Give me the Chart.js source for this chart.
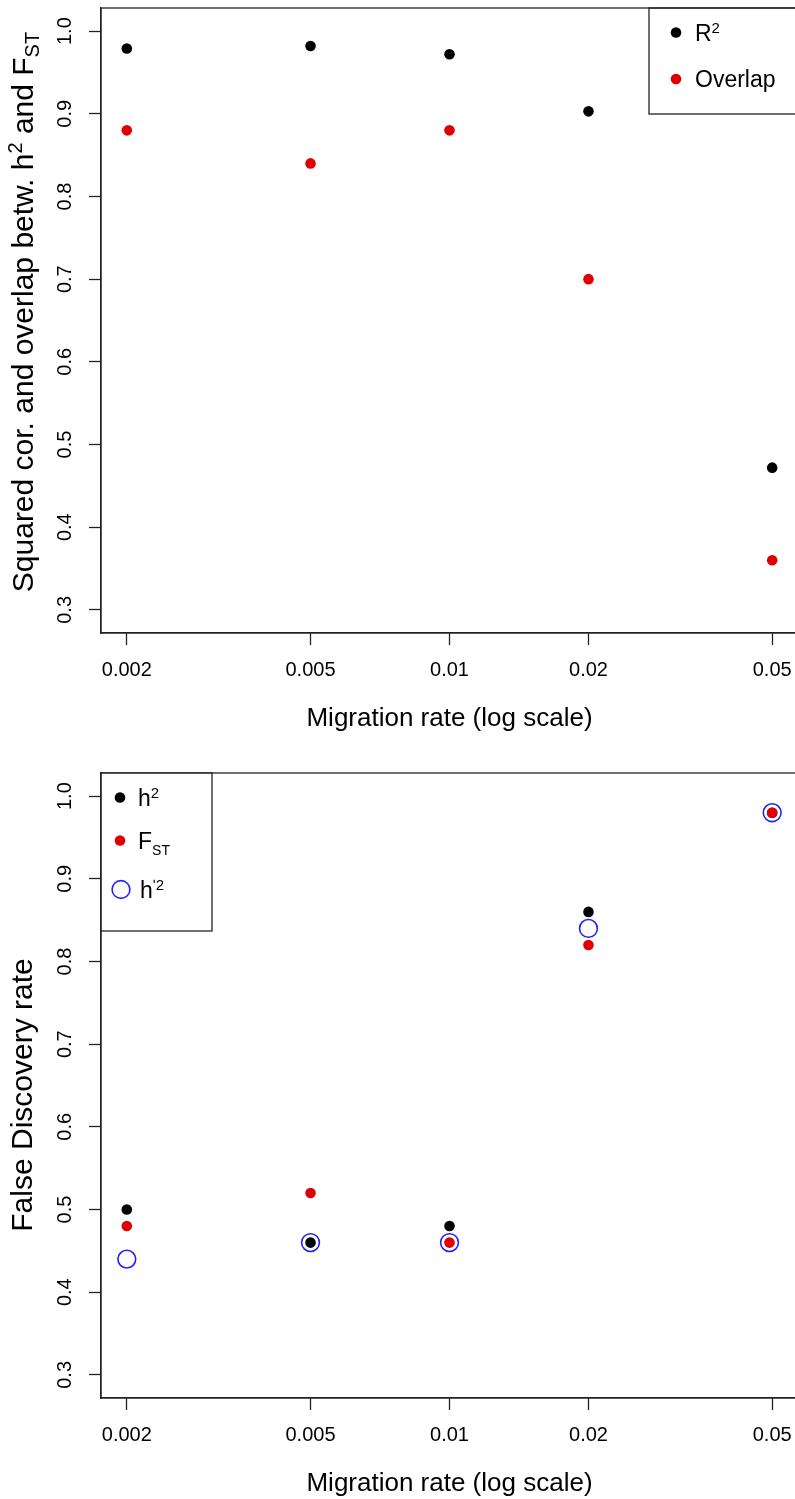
<!DOCTYPE html>
<html><head><meta charset="utf-8">
<script src="https://cdn.jsdelivr.net/npm/chart.js@4.4.1/dist/chart.umd.min.js"></script>
<style>
html,body{margin:0;padding:0;background:#fff;overflow:hidden;width:795px;height:1499px;position:relative;}
.wrap{position:absolute;left:0;width:800px;height:750px;}
#w1{top:0}
#w2{top:765px}
</style></head><body>
<div class="wrap" id="w1"><canvas id="c1" width="800" height="750"></canvas></div>
<div class="wrap" id="w2"><canvas id="c2" width="800" height="750"></canvas></div>
<script>
// ---- data ----
const migrationRates = [0.002, 0.005, 0.01, 0.02, 0.05];
const xTickLabels = ['0.002', '0.005', '0.01', '0.02', '0.05'];
const yTickValues = [0.3, 0.4, 0.5, 0.6, 0.7, 0.8, 0.9, 1.0];
const yTickLabels = ['0.3', '0.4', '0.5', '0.6', '0.7', '0.8', '0.9', '1.0'];
const r2Values = [0.979, 0.982, 0.972, 0.903, 0.472];
const overlapValues = [0.88, 0.84, 0.88, 0.70, 0.36];
const fdrH2 = [0.50, 0.46, 0.48, 0.86, 0.98];
const fdrFst = [0.48, 0.52, 0.46, 0.82, 0.98];
const fdrHprime2 = [0.44, 0.46, 0.46, 0.84, 0.98];
const xTitle = 'Migration rate (log scale)';
const yTitleBottom = 'False Discovery rate';

// ---- style ----
const FONT = '"Liberation Sans", Arial, Helvetica, sans-serif';
const AXIS = '#222';
const BLACK = '#000000';
const RED = '#e00000';
const BLUE = '#2020ff';

const xMin = Math.pow(10, Math.log10(0.002) - 0.0559);
const xMax = Math.pow(10, Math.log10(0.05) + 0.0559);
const yMin = 0.272, yMax = 1.028;

function pts(xs, ys) { return xs.map((x, i) => ({x: x, y: ys[i]})); }

function drawRich(ctx, segs, x, y, rotate, align) {
  ctx.save();
  ctx.translate(x, y);
  if (rotate) ctx.rotate(-Math.PI / 2);
  let total = 0;
  segs.forEach(s => { ctx.font = s.size + 'px ' + FONT; s.w = ctx.measureText(s.t).width; total += s.w; });
  let cx = align === 'center' ? -total / 2 : 0;
  ctx.textAlign = 'left';
  ctx.textBaseline = 'alphabetic';
  ctx.fillStyle = '#000';
  segs.forEach(s => { ctx.font = s.size + 'px ' + FONT; ctx.fillText(s.t, cx, s.dy || 0); cx += s.w; });
  ctx.restore();
}

function dot(ctx, x, y, r, color) {
  ctx.beginPath(); ctx.arc(x, y, r, 0, Math.PI * 2); ctx.fillStyle = color; ctx.fill();
}
function ring(ctx, x, y, r, color) {
  ctx.beginPath(); ctx.arc(x, y, r, 0, Math.PI * 2); ctx.strokeStyle = color; ctx.lineWidth = 1.6; ctx.stroke();
}
function zeroPad(s) { s.paddingTop = 0; s.paddingBottom = 0; s.paddingLeft = 0; s.paddingRight = 0; }

function baseOptions() {
  return {
    responsive: false,
    animation: false,
    layout: {autoPadding: false, padding: {top: 8, right: 2, left: 0, bottom: 0}},
    plugins: {legend: {display: false}, tooltip: {enabled: false}},
    scales: {
      x: {
        type: 'logarithmic', position: 'bottom', min: xMin, max: xMax,
        afterBuildTicks: s => { s.ticks = migrationRates.map(v => ({value: v})); },
        afterFit: s => { s.height = 117; zeroPad(s); },
        ticks: {
          autoSkip: false, maxRotation: 0, minRotation: 0, padding: 13,
          color: '#000', font: {family: FONT, size: 20},
          callback: (v, i) => xTickLabels[i]
        },
        grid: {drawOnChartArea: false, drawTicks: true, tickLength: 12, tickColor: AXIS, tickWidth: 1.3},
        border: {display: true, color: AXIS, width: 1.3},
        title: {display: true, text: xTitle, color: '#000', font: {family: FONT, size: 26}, padding: {top: 0, bottom: 16}}
      },
      y: {
        type: 'linear', position: 'left', min: yMin, max: yMax,
        afterBuildTicks: s => { s.ticks = yTickValues.map(v => ({value: v})); },
        afterFit: s => { s.width = 101; zeroPad(s); },
        ticks: {
          autoSkip: false, minRotation: 90, maxRotation: 90, crossAlign: 'center', padding: 10,
          color: '#000', font: {family: FONT, size: 20},
          callback: (v, i) => yTickLabels[i]
        },
        grid: {drawOnChartArea: false, drawTicks: true, tickLength: 12, tickColor: AXIS, tickWidth: 1.3},
        border: {display: true, color: AXIS, width: 1.3}
      }
    }
  };
}

const framePlugin = {
  id: 'frame',
  afterDraw(chart) {
    const ctx = chart.ctx, a = chart.chartArea;
    ctx.save();
    ctx.strokeStyle = AXIS; ctx.lineWidth = 1.3;
    ctx.strokeRect(a.left, a.top, a.right - a.left, a.bottom - a.top);
    ctx.restore();
  }
};

// ---- top chart ----
const topDecor = {
  id: 'topDecor',
  afterDraw(chart) {
    const ctx = chart.ctx;
    ctx.save();
    ctx.strokeStyle = AXIS; ctx.lineWidth = 1.3;
    ctx.strokeRect(649, 8, 200, 106);
    dot(ctx, 676, 32.5, 5.3, BLACK);
    dot(ctx, 676, 79, 5.3, RED);
    drawRich(ctx, [{t: 'R', size: 23}, {t: '2', size: 15, dy: -8}], 695, 40.5, false, 'left');
    drawRich(ctx, [{t: 'Overlap', size: 23}], 695, 87, false, 'left');
    drawRich(ctx, [
      {t: 'Squared cor. and overlap betw. h', size: 30},
      {t: '2', size: 20, dy: -11},
      {t: ' and F', size: 30},
      {t: 'ST', size: 20, dy: 6}
    ], 33, 312, true, 'center');
    ctx.restore();
  }
};

new Chart(document.getElementById('c1'), {
  type: 'scatter',
  data: {
    datasets: [
      {label: 'Overlap', data: pts(migrationRates, overlapValues), order: 1,
       pointRadius: 5.3, pointBackgroundColor: RED, pointBorderWidth: 0, pointBorderColor: RED},
      {label: 'R2', data: pts(migrationRates, r2Values), order: 2,
       pointRadius: 5.3, pointBackgroundColor: BLACK, pointBorderWidth: 0, pointBorderColor: BLACK}
    ]
  },
  options: baseOptions(),
  plugins: [framePlugin, topDecor]
});

// ---- bottom chart ----
const bottomDecor = {
  id: 'bottomDecor',
  afterDraw(chart) {
    const ctx = chart.ctx;
    ctx.save();
    ctx.fillStyle = '#fff';
    ctx.fillRect(101.5, 8.5, 110, 157);
    ctx.strokeStyle = AXIS; ctx.lineWidth = 1.3;
    ctx.strokeRect(101, 8, 111, 158);
    dot(ctx, 120, 32.5, 5.3, BLACK);
    dot(ctx, 120, 75.5, 5.3, RED);
    ring(ctx, 121, 124.5, 8.9, BLUE);
    drawRich(ctx, [{t: 'h', size: 23}, {t: '2', size: 15, dy: -8}], 138, 40.5, false, 'left');
    drawRich(ctx, [{t: 'F', size: 23}, {t: 'ST', size: 14, dy: 6}], 138, 83.5, false, 'left');
    drawRich(ctx, [{t: 'h', size: 23}, {t: '\u02B92', size: 15, dy: -8}], 140, 132.5, false, 'left');
    drawRich(ctx, [{t: yTitleBottom, size: 30}], 32, 330, true, 'center');
    ctx.restore();
  }
};

new Chart(document.getElementById('c2'), {
  type: 'scatter',
  data: {
    datasets: [
      {label: "h'2", data: pts(migrationRates, fdrHprime2), order: 1,
       pointRadius: 8.9, pointBackgroundColor: 'rgba(0,0,0,0)', pointBorderWidth: 1.6, pointBorderColor: BLUE},
      {label: 'FST', data: pts(migrationRates, fdrFst), order: 2,
       pointRadius: 5.3, pointBackgroundColor: RED, pointBorderWidth: 0, pointBorderColor: RED},
      {label: 'h2', data: pts(migrationRates, fdrH2), order: 3,
       pointRadius: 5.3, pointBackgroundColor: BLACK, pointBorderWidth: 0, pointBorderColor: BLACK}
    ]
  },
  options: baseOptions(),
  plugins: [framePlugin, bottomDecor]
});
</script>
</body></html>
